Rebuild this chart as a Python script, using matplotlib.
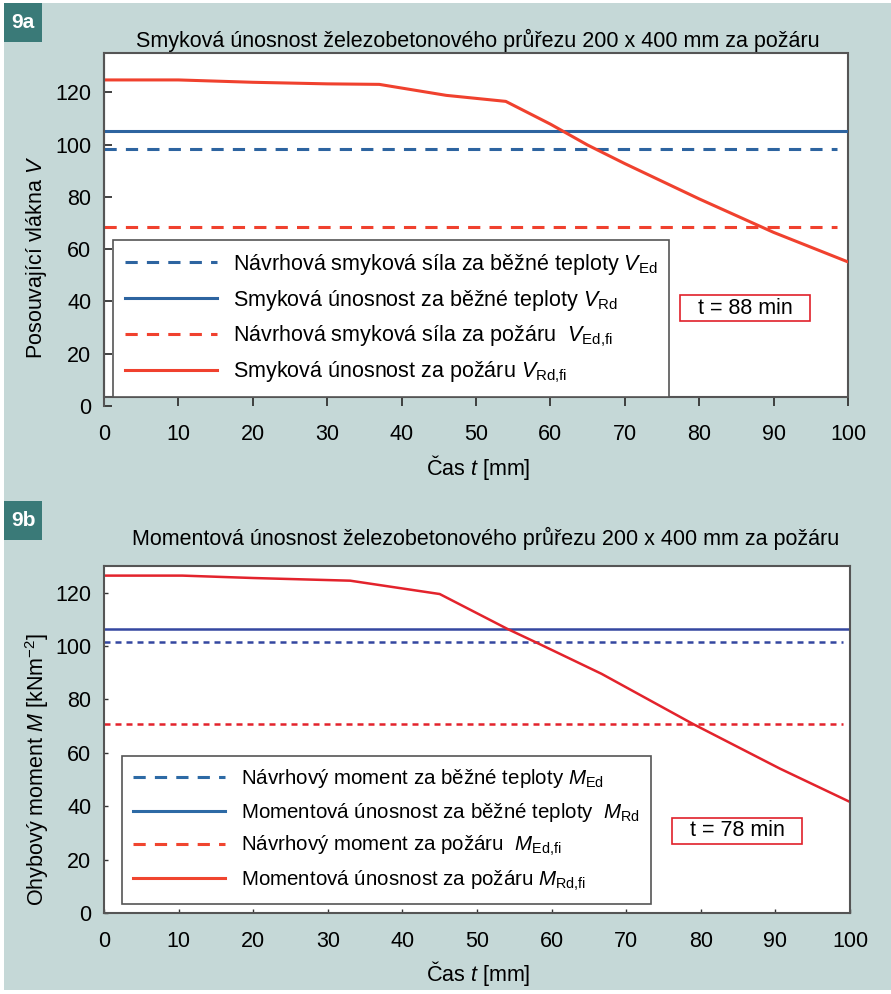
import numpy as np
import matplotlib
matplotlib.use("Agg")
import matplotlib.pyplot as plt
from matplotlib.lines import Line2D
from matplotlib.patches import Rectangle

plt.rcParams['font.family'] = ['Liberation Sans', 'DejaVu Sans']
plt.rcParams['mathtext.fontset'] = 'custom'
plt.rcParams['mathtext.rm'] = 'Liberation Sans'
plt.rcParams['mathtext.it'] = 'Liberation Sans:italic'
plt.rcParams['mathtext.bf'] = 'Liberation Sans:bold'

# --- data 9a (shear) ---
t_a = [0, 10, 20, 30, 37, 46, 54, 60, 65, 70, 80, 90, 100]
V_rd_fi = [124.7, 124.7, 123.8, 123.2, 123.0, 118.8, 116.5, 107.8, 99.8, 92.7, 79.2, 66.4, 55.1]
V_ed = 98.2
V_rd = 105.1
V_ed_fi = 68.6
t_fail_a = 88

# --- data 9b (moment) ---
t_b = [0, 10.5, 20, 33, 45, 54.1, 57.9, 66.7, 78.9, 90.6, 100]
M_rd_fi = [126.4, 126.4, 125.5, 124.5, 119.5, 106.4, 101.4, 89.6, 70.9, 54.1, 41.6]
M_ed = 101.7
M_rd = 106.4
M_ed_fi = 70.9
t_fail_b = 78

x_ticks = np.arange(0, 101, 10)
y_ticks = np.arange(0, 121, 20)

labels_a = ['Návrhová smyková síla za běžné teploty $V_{\\mathrm{Ed}}$',
            'Smyková únosnost za běžné teploty $V_{\\mathrm{Rd}}$',
            'Návrhová smyková síla za požáru  $V_{\\mathrm{Ed{,}fi}}$',
            'Smyková únosnost za požáru $V_{\\mathrm{Rd{,}fi}}$']
labels_b = ['Návrhový moment za běžné teploty $M_{\\mathrm{Ed}}$',
            'Momentová únosnost za běžné teploty  $M_{\\mathrm{Rd}}$',
            'Návrhový moment za požáru  $M_{\\mathrm{Ed{,}fi}}$',
            'Momentová únosnost za požáru $M_{\\mathrm{Rd{,}fi}}$']

BG = '#c5d8d7'
TEAL = '#3a7a78'
FRAME = '#555555'
BLUE = '#2d64a0'
RED = '#f0412e'
BLUE_B = '#3447a0'
RED_B = '#e3232c'
LEG_BLUE = '#2d6aa5'
LEG_RED = '#f0452f'
FS = 15.5

W, H = 891, 994
fig = plt.figure(figsize=(W / 100, H / 100), dpi=100)
fig.patch.set_facecolor('white')
fig.patches.append(Rectangle((4 / W, 1 - 990 / H), 1 - 4 / W, (990 - 3) / H,
                             transform=fig.transFigure, facecolor=BG, edgecolor='none', zorder=-10))


def px(x0, y0, x1, y1):
    return [x0 / W, 1 - y1 / H, (x1 - x0) / W, (y1 - y0) / H]


def badge(txt, y0, y1):
    fig.patches.append(Rectangle((4 / W, 1 - y1 / H), 38 / W, (y1 - y0) / H,
                                 transform=fig.transFigure, facecolor=TEAL, edgecolor='none'))
    fig.text(23 / W, 1 - (y0 + y1) / 2 / H, txt, color='white', fontsize=15,
             fontweight='bold', ha='center', va='center')


def legend(ax, colors, dash, labels, anchor, fs):
    handles = [Line2D([], [], color=colors[0], lw=2.2, ls=(0, dash)),
               Line2D([], [], color=colors[0], lw=2.2),
               Line2D([], [], color=colors[1], lw=2.2, ls=(0, dash)),
               Line2D([], [], color=colors[1], lw=2.2)]
    lg = ax.legend(handles, labels, loc='lower left', bbox_to_anchor=anchor,
                   borderaxespad=0, fontsize=fs, handlelength=92 / (fs * 1.389),
                   handletextpad=0.75, labelspacing=0.5, borderpad=0.55, fancybox=False,
                   framealpha=1, edgecolor=FRAME)
    lg.get_frame().set_linewidth(1.2)
    return lg


def tbox(ax, cx, cy, txt):
    ax.add_patch(Rectangle((cx - 0.087, cy - 0.037), 0.174, 0.074, transform=ax.transAxes,
                           facecolor='white', edgecolor='#e0202a', lw=1.2, zorder=5))
    ax.text(cx, cy, txt, transform=ax.transAxes, ha='center', va='center',
            fontsize=FS, zorder=6)


# ---------------- 9a ----------------
badge('9a', 3, 42)
ax1 = fig.add_axes(px(104, 53, 848, 406))
ax1.set_facecolor('none')
ax1.set_xlim(0, 100)
ax1.set_ylim(0, 135)
frame_bottom = 3.4
ax1.add_patch(Rectangle((0, frame_bottom), 100, 135 - frame_bottom, facecolor='white',
                        edgecolor=FRAME, lw=1.5, zorder=0, clip_on=False))
for s in ['top', 'right', 'bottom']:
    ax1.spines[s].set_visible(False)
ax1.spines['left'].set_color(FRAME)
ax1.spines['left'].set_linewidth(1.5)

dash_a = (4.0, 3.0)
ax1.axhline(V_ed, color=BLUE, lw=2.2, ls=(0, dash_a), xmax=0.985)
ax1.axhline(V_rd, color=BLUE, lw=2.2)
ax1.axhline(V_ed_fi, color=RED, lw=2.2, ls=(0, dash_a), xmax=0.985)
ax1.plot(t_a, V_rd_fi, color=RED, lw=2.2)

ax1.set_xticks(x_ticks)
ax1.set_yticks(y_ticks)
ax1.tick_params(direction='in', length=6, width=1.3, color='#333333', labelsize=FS)
ax1.tick_params(axis='x', pad=13)
ax1.tick_params(axis='y', pad=9)
legend(ax1, (BLUE, RED), (4.0, 3.0), labels_a, ((113 - 104) / 744, (406 - 397) / 353), FS)
tbox(ax1, (745 - 104) / 744, (406 - 308) / 353, f't = {t_fail_a} min')

fig.text(478 / W, 1 - 40 / H, 'Smyková únosnost železobetonového průřezu 200 x 400 mm za požáru',
         ha='center', va='center', fontsize=FS)
fig.text(478 / W, 1 - 467 / H, 'Čas $t$ [mm]', ha='center', va='center', fontsize=FS)
fig.text(37 / W, 1 - 257 / H, 'Posouvající vlákna $V$', ha='center', va='center',
         rotation=90, fontsize=FS)

# ---------------- 9b ----------------
badge('9b', 501, 540)
ax2 = fig.add_axes(px(104, 566, 850, 913))
ax2.set_xlim(0, 100)
ax2.set_ylim(0, 130)
for s in ax2.spines.values():
    s.set_color(FRAME)
    s.set_linewidth(1.5)

dash_b = (2.4, 2.0)
ax2.axhline(M_ed, color=BLUE_B, lw=1.8, ls=(0, dash_b), xmax=0.99)
ax2.axhline(M_rd, color=BLUE_B, lw=1.8)
ax2.axhline(M_ed_fi, color=RED_B, lw=1.8, ls=(0, dash_b), xmax=0.99)
ax2.plot(t_b, M_rd_fi, color=RED_B, lw=1.8)

ax2.set_xticks(x_ticks)
ax2.set_yticks(y_ticks)
ax2.tick_params(direction='in', length=3, width=1.0, color='#333333', labelsize=FS)
ax2.tick_params(axis='x', pad=13)
ax2.tick_params(axis='y', pad=9)
legend(ax2, (LEG_BLUE, LEG_RED), (4.0, 3.0), labels_b,
       ((122 - 104) / 746, (913 - 904) / 347), 14.8)
tbox(ax2, (737 - 104) / 746, (913 - 831) / 347, f't = {t_fail_b} min')

fig.text(486 / W, 1 - 538 / H, 'Momentová únosnost železobetonového průřezu 200 x 400 mm za požáru',
         ha='center', va='center', fontsize=FS)
fig.text(478 / W, 1 - 973 / H, 'Čas $t$ [mm]', ha='center', va='center', fontsize=FS)
fig.text(37 / W, 1 - 770 / H, 'Ohybový moment $M$ [kNm$^{-2}$]', ha='center', va='center',
         rotation=90, fontsize=FS)

fig.savefig('out.png', dpi=100, facecolor=fig.get_facecolor())
